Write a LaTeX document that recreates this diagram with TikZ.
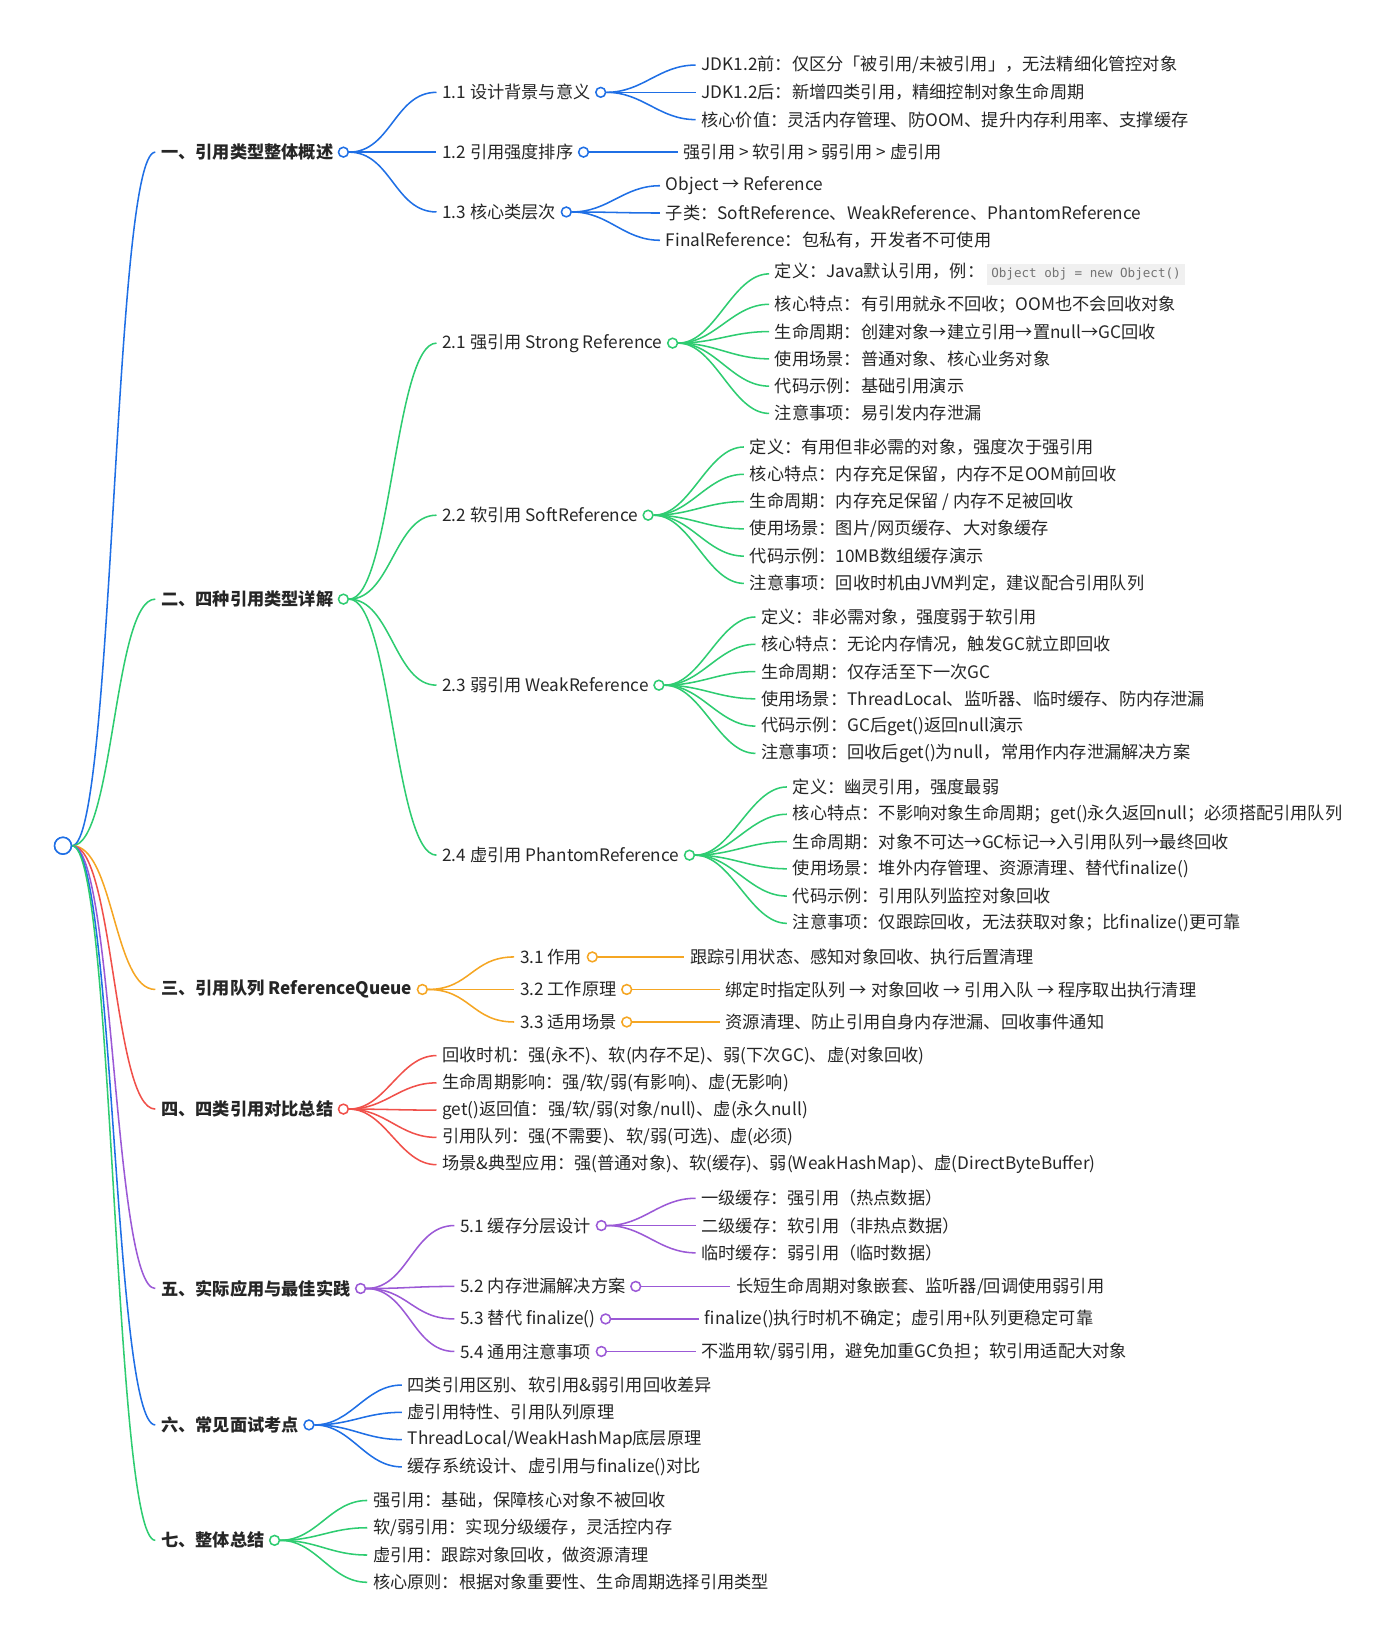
\documentclass[tikz,border=0pt]{standalone}
\usepackage{fontspec}
\setmainfont{Noto Sans CJK SC}
\setmonofont{DejaVu Sans Mono}
\definecolor{cb}{HTML}{1F6FE5}
\definecolor{cg}{HTML}{2ECC71}
\definecolor{co}{HTML}{F5A623}
\definecolor{cr}{HTML}{F0504A}
\definecolor{cp}{HTML}{9B59D6}
\begin{document}
\begin{tikzpicture}[x=0.75pt,y=-0.75pt,
  t/.style={anchor=west,inner xsep=4pt,inner ysep=1pt,font=\fontsize{12.3}{14}\selectfont,text=black!85},
  h/.style={t,font=\fontsize{12.3}{14}\selectfont\bfseries},
  dot/.style={circle,draw=#1,fill=white,line width=1.1pt,minimum size=7pt,inner sep=0pt},
  ln/.style={draw=#1,line width=1.1pt}]
\useasboundingbox (0,0) rectangle (1334,1563);
\newcommand\mmlf[6]{%
  \node[t] (#2) at (#3-4,#4) {#6};
  \draw[ln=#5] (#1.east) .. controls +(35,0) and +(-35,0) .. (#2.west);}
\newcommand\mmmid[7]{%
  \node[t] (#2) at (#3-4,#4) {#6};
  \node[dot=#5,anchor=west] (#7) at ([xshift=-1pt]#2.east) {};
  \draw[ln=#5] (#1.east) .. controls +(40,0) and +(-40,0) .. (#2.west);}
\node[dot=cb,minimum size=12pt] (root) at (60,806) {};
\newcommand\mmtop[6]{%
  \node[h] (#1) at (#2-4,#3) {#5};
  \node[dot=#4,anchor=west] (#6) at ([xshift=-1pt]#1.east) {};
  \draw[ln=#4] (root.east) .. controls +(40,0) and +(-40,0) .. (#1.west);}
% group 1
\mmtop{a}{152}{145}{cb}{一、引用类型整体概述}{ad}
\mmmid{ad}{a1}{420}{88}{cb}{1.1 设计背景与意义}{a1d}
\mmlf{a1d}{a11}{667}{62}{cb}{JDK1.2前：仅区分「被引用/未被引用」，无法精细化管控对象}
\mmlf{a1d}{a12}{667}{88}{cb}{JDK1.2后：新增四类引用，精细控制对象生命周期}
\mmlf{a1d}{a13}{667}{114}{cb}{核心价值：灵活内存管理、防OOM、提升内存利用率、支撑缓存}
\mmmid{ad}{a2}{420}{145}{cb}{1.2 引用强度排序}{a2d}
\mmlf{a2d}{a21}{650}{145}{cb}{强引用 > 软引用 > 弱引用 > 虚引用}
\mmmid{ad}{a3}{420}{202}{cb}{1.3 核心类层次}{a3d}
\mmlf{a3d}{a31}{633}{177}{cb}{Object → Reference}
\mmlf{a3d}{a32}{633}{203}{cb}{子类：SoftReference、WeakReference、PhantomReference}
\mmlf{a3d}{a33}{633}{229}{cb}{FinalReference：包私有，开发者不可使用}
% group 2
\mmtop{b}{152}{571}{cg}{二、四种引用类型详解}{bd}
\mmmid{bd}{b1}{420}{327}{cg}{2.1 强引用 Strong Reference}{b1d}
\mmlf{b1d}{b11}{737}{261}{cg}{定义：Java默认引用，例：\,\colorbox{black!6}{\fontsize{9}{10}\ttfamily\color{black!55}Object obj = new Object()}}
\mmlf{b1d}{b12}{737}{290}{cg}{核心特点：有引用就永不回收；OOM也不会回收对象}
\mmlf{b1d}{b13}{737}{316}{cg}{生命周期：创建对象→建立引用→置null→GC回收}
\mmlf{b1d}{b14}{737}{342}{cg}{使用场景：普通对象、核心业务对象}
\mmlf{b1d}{b15}{737}{368}{cg}{代码示例：基础引用演示}
\mmlf{b1d}{b16}{737}{394}{cg}{注意事项：易引发内存泄漏}
\mmmid{bd}{b2}{420}{491}{cg}{2.2 软引用 SoftReference}{b2d}
\mmlf{b2d}{b21}{713}{426}{cg}{定义：有用但非必需的对象，强度次于强引用}
\mmlf{b2d}{b22}{713}{452}{cg}{核心特点：内存充足保留，内存不足OOM前回收}
\mmlf{b2d}{b23}{713}{478}{cg}{生命周期：内存充足保留 / 内存不足被回收}
\mmlf{b2d}{b24}{713}{504}{cg}{使用场景：图片/网页缓存、大对象缓存}
\mmlf{b2d}{b25}{713}{530}{cg}{代码示例：10MB数组缓存演示}
\mmlf{b2d}{b26}{713}{556}{cg}{注意事项：回收时机由JVM判定，建议配合引用队列}
\mmmid{bd}{b3}{420}{653}{cg}{2.3 弱引用 WeakReference}{b3d}
\mmlf{b3d}{b31}{724}{588}{cg}{定义：非必需对象，强度弱于软引用}
\mmlf{b3d}{b32}{724}{614}{cg}{核心特点：无论内存情况，触发GC就立即回收}
\mmlf{b3d}{b33}{724}{640}{cg}{生命周期：仅存活至下一次GC}
\mmlf{b3d}{b34}{724}{666}{cg}{使用场景：ThreadLocal、监听器、临时缓存、防内存泄漏}
\mmlf{b3d}{b35}{724}{692}{cg}{代码示例：GC后get()返回null演示}
\mmlf{b3d}{b36}{724}{718}{cg}{注意事项：回收后get()为null，常用作内存泄漏解决方案}
\mmmid{bd}{b4}{420}{815}{cg}{2.4 虚引用 PhantomReference}{b4d}
\mmlf{b4d}{b41}{754}{750}{cg}{定义：幽灵引用，强度最弱}
\mmlf{b4d}{b42}{754}{776}{cg}{核心特点：不影响对象生命周期；get()永久返回null；必须搭配引用队列}
\mmlf{b4d}{b43}{754}{802}{cg}{生命周期：对象不可达→GC标记→入引用队列→最终回收}
\mmlf{b4d}{b44}{754}{828}{cg}{使用场景：堆外内存管理、资源清理、替代finalize()}
\mmlf{b4d}{b45}{754}{854}{cg}{代码示例：引用队列监控对象回收}
\mmlf{b4d}{b46}{754}{880}{cg}{注意事项：仅跟踪回收，无法获取对象；比finalize()更可靠}
% group 3
\mmtop{c}{152}{943}{co}{三、引用队列 ReferenceQueue}{cd}
\mmmid{cd}{c1}{494}{912}{co}{3.1 作用}{c1d}
\mmlf{c1d}{c11}{656}{912}{co}{跟踪引用状态、感知对象回收、执行后置清理}
\mmmid{cd}{c2}{494}{943}{co}{3.2 工作原理}{c2d}
\mmlf{c2d}{c21}{690}{943}{co}{绑定时指定队列 → 对象回收 → 引用入队 → 程序取出执行清理}
\mmmid{cd}{c3}{494}{974}{co}{3.3 适用场景}{c3d}
\mmlf{c3d}{c31}{690}{974}{co}{资源清理、防止引用自身内存泄漏、回收事件通知}
% group 4
\mmtop{d}{152}{1057}{cr}{四、四类引用对比总结}{dd}
\mmlf{dd}{d1}{420}{1006}{cr}{回收时机：强(永不)、软(内存不足)、弱(下次GC)、虚(对象回收)}
\mmlf{dd}{d2}{420}{1032}{cr}{生命周期影响：强/软/弱(有影响)、虚(无影响)}
\mmlf{dd}{d3}{420}{1058}{cr}{get()返回值：强/软/弱(对象/null)、虚(永久null)}
\mmlf{dd}{d4}{420}{1084}{cr}{引用队列：强(不需要)、软/弱(可选)、虚(必须)}
\mmlf{dd}{d5}{420}{1110}{cr}{场景\&典型应用：强(普通对象)、软(缓存)、弱(WeakHashMap)、虚(DirectByteBuffer)}
% group 5
\mmtop{e}{152}{1228}{cp}{五、实际应用与最佳实践}{ed}
\mmmid{ed}{e1}{437}{1168}{cp}{5.1 缓存分层设计}{e1d}
\mmlf{e1d}{e11}{667}{1142}{cp}{一级缓存：强引用（热点数据）}
\mmlf{e1d}{e12}{667}{1168}{cp}{二级缓存：软引用（非热点数据）}
\mmlf{e1d}{e13}{667}{1194}{cp}{临时缓存：弱引用（临时数据）}
\mmmid{ed}{e2}{437}{1226}{cp}{5.2 内存泄漏解决方案}{e2d}
\mmlf{e2d}{e21}{700}{1226}{cp}{长短生命周期对象嵌套、监听器/回调使用弱引用}
\mmmid{ed}{e3}{437}{1257}{cp}{5.3 替代 finalize()}{e3d}
\mmlf{e3d}{e31}{670}{1257}{cp}{finalize()执行时机不确定；虚引用+队列更稳定可靠}
\mmmid{ed}{e4}{437}{1288}{cp}{5.4 通用注意事项}{e4d}
\mmlf{e4d}{e41}{667}{1288}{cp}{不滥用软/弱引用，避免加重GC负担；软引用适配大对象}
% group 6
\mmtop{f}{152}{1358}{cb}{六、常见面试考点}{fd}
\mmlf{fd}{f1}{387}{1320}{cb}{四类引用区别、软引用\&弱引用回收差异}
\mmlf{fd}{f2}{387}{1346}{cb}{虚引用特性、引用队列原理}
\mmlf{fd}{f3}{387}{1372}{cb}{ThreadLocal/WeakHashMap底层原理}
\mmlf{fd}{f4}{387}{1398}{cb}{缓存系统设计、虚引用与finalize()对比}
% group 7
\mmtop{g}{152}{1468}{cg}{七、整体总结}{gd}
\mmlf{gd}{g1}{354}{1430}{cg}{强引用：基础，保障核心对象不被回收}
\mmlf{gd}{g2}{354}{1456}{cg}{软/弱引用：实现分级缓存，灵活控内存}
\mmlf{gd}{g3}{354}{1482}{cg}{虚引用：跟踪对象回收，做资源清理}
\mmlf{gd}{g4}{354}{1508}{cg}{核心原则：根据对象重要性、生命周期选择引用类型}
\node[dot=cb,minimum size=12pt] at (root) {};
\end{tikzpicture}
\end{document}
